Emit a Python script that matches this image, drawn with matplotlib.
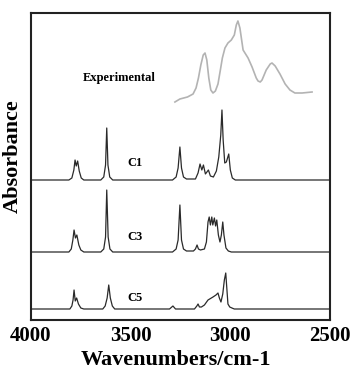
import matplotlib
matplotlib.use("Agg")
import matplotlib.pyplot as plt

# ================= data =================

# experimental spectrum (grey, top)
exp_wn = [3278, 3253, 3215, 3187, 3172, 3160, 3148, 3136, 3127, 3118, 3108, 3098, 3087,
          3075, 3062, 3050, 3040, 3027, 3012, 2995, 2980, 2970, 2962, 2952, 2936,
          2911, 2891, 2870, 2861, 2850, 2841, 2820, 2800, 2791, 2775, 2751, 2725,
          2701, 2676, 2640, 2590]
exp_ab = [2.18, 2.21, 2.23, 2.26, 2.32, 2.42, 2.55, 2.65, 2.67, 2.60, 2.42, 2.30, 2.27,
          2.29, 2.36, 2.50, 2.62, 2.72, 2.77, 2.80, 2.85, 2.95, 2.99, 2.92, 2.70,
          2.62, 2.53, 2.42, 2.39, 2.38, 2.40, 2.50, 2.56, 2.57, 2.54, 2.46, 2.36,
          2.30, 2.27, 2.27, 2.28]

# C1
c1_wn = [4000, 3810, 3795, 3785, 3779, 3773, 3766, 3758, 3748, 3735,
         3650, 3635, 3626, 3620, 3614, 3605, 3590,
         3290, 3272, 3262, 3253, 3245, 3235, 3220,
         3175, 3162, 3152, 3143, 3135, 3125, 3110, 3100, 3085,
         3070, 3058, 3048, 3042, 3036, 3028, 3020, 3008, 3000, 2990, 2975, 2500]
c1_ab = [1.40, 1.40, 1.42, 1.50, 1.60, 1.54, 1.59, 1.49, 1.42, 1.40,
         1.40, 1.43, 1.55, 1.92, 1.55, 1.43, 1.40,
         1.40, 1.43, 1.52, 1.73, 1.52, 1.43, 1.41,
         1.41, 1.47, 1.56, 1.50, 1.55, 1.46, 1.50, 1.44, 1.43,
         1.49, 1.63, 1.85, 2.10, 1.80, 1.57, 1.58, 1.66, 1.50, 1.42, 1.40, 1.40]

# C3
c3_wn = [4000, 3810, 3798, 3790, 3784, 3777, 3770, 3760, 3750, 3735,
         3650, 3635, 3626, 3620, 3613, 3604, 3590,
         3290, 3272, 3262, 3253, 3245, 3235, 3220,
         3185, 3175, 3167, 3160, 3150,
         3130, 3120, 3112, 3106, 3100, 3093, 3088, 3080, 3074, 3068,
         3060, 3052, 3045, 3038, 3032, 3022, 3010, 2995, 2500]
c3_ab = [0.68, 0.68, 0.71, 0.80, 0.90, 0.82, 0.85, 0.75, 0.70, 0.68,
         0.68, 0.71, 0.83, 1.30, 0.83, 0.71, 0.68,
         0.68, 0.71, 0.80, 1.15, 0.80, 0.71, 0.69,
         0.69, 0.71, 0.75, 0.71, 0.70,
         0.71, 0.78, 0.98, 1.03, 0.95, 1.03, 0.95, 1.02, 0.94, 1.00,
         0.85, 0.78, 0.85, 0.98, 0.85, 0.72, 0.69, 0.68, 0.68]

# C5
c5_wn = [4000, 3805, 3795, 3789, 3784, 3778, 3771, 3762, 3750, 3735,
         3640, 3628, 3618, 3610, 3602, 3592, 3580,
         3305, 3288, 3275,
         3180, 3168, 3162, 3155, 3145,
         3130, 3112, 3087, 3072, 3062, 3055, 3047, 3038, 3030, 3023,
         3017, 3012, 3003, 2992, 2980, 2500]
c5_ab = [0.11, 0.11, 0.14, 0.20, 0.30, 0.19, 0.22, 0.16, 0.12, 0.11,
         0.11, 0.14, 0.22, 0.35, 0.22, 0.14, 0.11,
         0.11, 0.14, 0.11,
         0.11, 0.14, 0.16, 0.13, 0.13,
         0.15, 0.20, 0.23, 0.25, 0.27, 0.22, 0.18, 0.26, 0.40, 0.47,
         0.30, 0.16, 0.13, 0.12, 0.11, 0.11]

labels = ["Experimental", "C1", "C3", "C5"]
label_wn = [3558, 3478, 3478, 3478]
label_ab = [2.42, 1.57, 0.83, 0.22]

xticks = [4000, 3500, 3000, 2500]

# ================= plot =================

plt.rcParams['font.family'] = ['Liberation Serif', 'DejaVu Serif']

fig = plt.figure(figsize=(3.52, 3.70), dpi=100)
ax = fig.add_axes([31/352, 50/370, 299/352, 307/370])

ax.plot(exp_wn, exp_ab, color='#b3b3b3', lw=1.2)
ax.plot(c1_wn, c1_ab, color='#2a2a2a', lw=0.9)
ax.plot(c3_wn, c3_ab, color='#2a2a2a', lw=0.9)
ax.plot(c5_wn, c5_ab, color='#2a2a2a', lw=0.9)

for t, x, y in zip(labels, label_wn, label_ab):
    ax.text(x, y, t, ha='center', va='center', fontsize=9, fontweight='bold')

ax.set_xlim(4000, 2500)
ax.set_ylim(0, 3.07)
ax.set_xticks(xticks)
ax.set_xticklabels([str(v) for v in xticks], fontsize=15, fontweight='bold')
ax.set_yticks([])
ax.tick_params(axis='x', length=0, pad=4)

for s in ax.spines.values():
    s.set_linewidth(1.5)
    s.set_color('#222222')

ax.set_xlabel('Wavenumbers/cm-1', fontsize=16, fontweight='bold', va='center')
ax.xaxis.set_label_coords(0.485, -0.13)
ax.set_ylabel('Absorbance', fontsize=16, fontweight='bold', va='center')
ax.yaxis.set_label_coords(-0.06, 0.534)

fig.savefig('out.png', dpi=100)
